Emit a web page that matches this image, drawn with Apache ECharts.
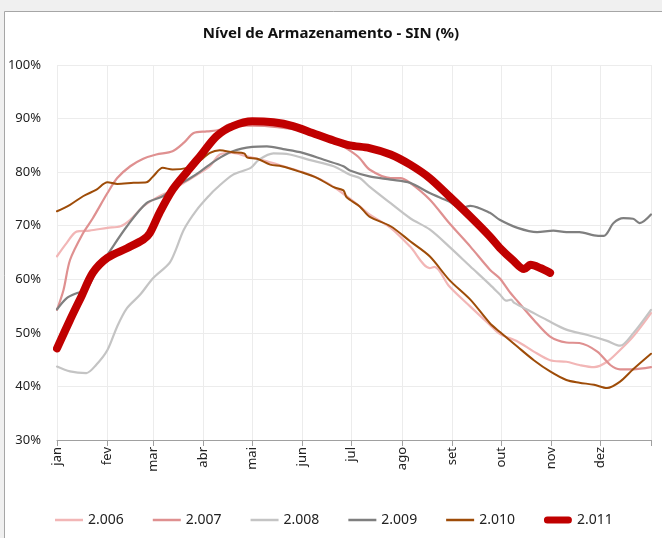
<!DOCTYPE html>
<html>
<head>
<meta charset="utf-8">
<script src="https://cdn.jsdelivr.net/npm/echarts@6/dist/echarts.min.js"></script>
<style>
html,body{margin:0;padding:0;background:#f0f0f0;}
#chart{width:662px;height:538px;}
</style>
</head>
<body>
<div id="chart"></div>
<script>
const monthLabels = ['jan','fev','mar','abr','mai','jun','jul','ago','set','out','nov','dez'];
const monthStarts = [0,31,59,90,120,151,181,212,243,273,304,334];
const yearEnd = 365;
const seriesNames = ['2.006','2.007','2.008','2.009','2.010','2.011'];

const s2006 = [[0,64.3],[6,66.8],[12,68.9],[20,69.1],[31,69.6],[39,69.9],[45,71.1],[53,73.6],[61,75.2],[69,76.4],[78,78.0],[86,79.5],[94,81.1],[100,83.3],[108,83.6],[116,83.0],[129,82.0],[139,81.1],[153,79.8],[166,78.0],[178,75.5],[186,73.6],[192,72.1],[205,69.6],[217,66.1],[229,62.1],[232,62.3],[241,58.7],[254,54.9],[266,51.5],[272,49.8],[283,48.4],[293,46.5],[303,44.9],[313,44.6],[321,44.0],[330,43.6],[338,44.6],[346,46.8],[354,49.3],[365,53.7]];
const s2007 = [[0,54.3],[4,58.0],[8,63.6],[16,68.6],[22,71.4],[31,76.1],[37,78.9],[45,81.1],[53,82.5],[61,83.3],[71,83.9],[78,85.5],[84,87.3],[92,87.6],[100,87.9],[106,88.9],[114,88.7],[129,88.6],[143,88.1],[157,87.3],[170,85.9],[180,84.0],[186,82.6],[192,80.5],[205,78.9],[211,78.9],[217,78.0],[229,74.9],[241,70.5],[254,66.1],[266,61.8],[272,60.2],[278,57.7],[283,55.9],[293,52.4],[303,49.3],[313,48.2],[321,48.1],[332,46.5],[340,44.0],[346,43.2],[354,43.2],[365,43.6]];
const s2008 = [[0,43.7],[8,42.8],[18,42.5],[24,44.0],[31,46.8],[37,51.2],[43,54.6],[51,57.1],[59,60.2],[69,63.0],[73,65.5],[78,69.3],[86,73.0],[94,75.8],[98,77.0],[108,79.5],[119,80.8],[124,82.3],[133,83.5],[143,83.3],[155,82.3],[170,81.1],[180,79.5],[186,78.9],[192,77.3],[205,74.2],[217,71.4],[229,69.3],[241,66.1],[254,62.4],[266,59.0],[272,57.2],[276,56.0],[279,56.2],[281,55.6],[291,54.0],[301,52.4],[313,50.6],[326,49.6],[338,48.5],[346,47.6],[354,49.9],[365,54.3]];
const s2009 = [[0,54.4],[6,56.5],[12,57.4],[18,58.0],[24,61.5],[31,64.6],[43,69.9],[55,74.2],[65,75.5],[73,77.3],[82,78.9],[88,80.1],[98,82.3],[108,83.9],[120,84.7],[129,84.8],[139,84.3],[151,83.6],[164,82.3],[176,81.1],[180,80.3],[192,79.2],[205,78.6],[217,78.0],[229,76.1],[241,74.5],[248,73.3],[254,73.7],[266,72.4],[272,71.1],[283,69.6],[295,68.8],[305,69.1],[313,68.8],[321,68.8],[330,68.2],[336,68.1],[342,70.5],[348,71.4],[354,71.3],[358,70.5],[365,72.1]];
const s2010 = [[0,72.7],[8,73.9],[16,75.5],[24,76.7],[31,78.1],[37,77.8],[47,78.0],[55,78.1],[59,79.2],[65,80.8],[71,80.5],[80,80.8],[86,81.7],[94,83.6],[100,84.1],[108,83.7],[115,83.5],[117,82.7],[123,82.5],[131,81.4],[138,81.1],[149,80.1],[160,78.9],[170,77.2],[176,76.6],[178,75.3],[186,73.6],[192,71.7],[205,69.9],[217,67.1],[229,64.3],[241,59.9],[254,56.2],[266,51.8],[272,50.2],[283,47.4],[293,44.9],[303,42.8],[313,41.2],[321,40.7],[330,40.3],[338,39.7],[346,40.9],[354,43.2],[365,46.1]];
const s2011 = [[0,47.1],[8,52.4],[15,56.8],[22,61.2],[31,64.0],[43,65.8],[53,67.4],[57,68.6],[63,72.4],[71,76.7],[80,80.1],[88,83.0],[98,86.7],[108,88.6],[120,89.5],[133,89.3],[145,88.6],[157,87.3],[170,85.9],[180,85.0],[192,84.5],[205,83.3],[217,81.4],[229,78.9],[241,75.5],[254,71.7],[266,68.0],[272,65.9],[280,63.6],[287,61.9],[291,62.7],[297,62.1],[303,61.2]];

const seriesData = [s2006, s2007, s2008, s2009, s2010, s2011];
const colors = ['#F2B6B6','#DF9090','#C4C4C4','#7F7F7F','#9E4C08','#C00000'];
const widths = [2.2,2.2,2.2,2.2,2,8];
const legendIcons = ['path://M0,0h28v2.5h-28z','path://M0,0h28v2.5h-28z','path://M0,0h28v2.5h-28z','path://M0,0h28v2.5h-28z','path://M0,0h28v2.5h-28z','path://M3.5,0h21a3.5,3.5 0 0 1 0,7h-21a3.5,3.5 0 0 1 0,-7z'];

const chart = echarts.init(document.getElementById('chart'), null, {renderer:'canvas'});
const FONT = 'Noto Sans';
chart.setOption({
  animation:false,
  backgroundColor:'#f0f0f0',
  graphic:[{type:'rect',z:-10,silent:true,shape:{x:4.5,y:11.5,width:700,height:600},style:{fill:'#ffffff',stroke:'#a6a6a6',lineWidth:1}}],
  title:{text:'Nível de Armazenamento - SIN (%)',left:'center',top:21,textStyle:{fontFamily:FONT,fontSize:15,fontWeight:'bold',color:'#111'}},
  grid:{left:57,right:11,top:65,bottom:98,containLabel:false},
  legend:{bottom:6,left:50,itemWidth:28,itemHeight:10,itemGap:29,symbolKeepAspect:true,
    textStyle:{fontFamily:FONT,fontSize:14,color:'#222'},
    data:seriesNames.map(function(n,i){return {name:n,icon:legendIcons[i],itemStyle:{color:colors[i],borderWidth:0}};})},
  xAxis:{type:'value',min:0,max:yearEnd,
    axisLine:{show:true,lineStyle:{color:'#a0a0a0',width:1}},
    axisTick:{show:true,inside:false,length:6,lineStyle:{color:'#a0a0a0'},customValues:monthStarts.concat([yearEnd])},
    axisLabel:{rotate:90,margin:7,fontFamily:FONT,fontSize:13,color:'#222',customValues:monthStarts,
      formatter:function(v){const i=monthStarts.indexOf(Math.round(v));return i>=0?monthLabels[i]:'';}},
    splitLine:{show:true,lineStyle:{color:'#ececec',width:1}}},
  yAxis:{type:'value',min:30,max:100,interval:10,
    axisLine:{show:false},axisTick:{show:false},
    axisLabel:{formatter:'{value}%',margin:16,fontFamily:FONT,fontSize:13,color:'#222'},
    splitLine:{show:true,lineStyle:{color:'#ececec',width:1}}},
  series:seriesNames.map(function(n,i){return {name:n,type:'line',data:seriesData[i],showSymbol:false,symbol:'none',smooth:0.3,
    lineStyle:{color:colors[i],width:widths[i],cap:'round',join:'round'},itemStyle:{color:colors[i]},z:i+2};})
});
</script>
</body>
</html>
